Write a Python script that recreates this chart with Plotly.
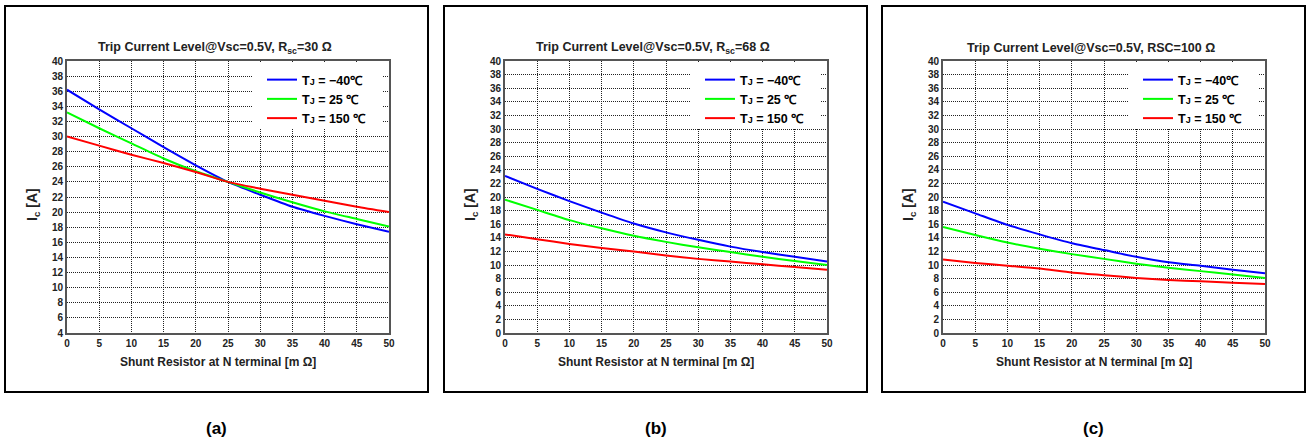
import plotly.graph_objects as go

# ---------------- data ----------------
shunt_mohm = [0, 5, 10, 15, 20, 25, 30, 35, 40, 45, 50]

# (a) Rsc = 30 ohm
a_tj_m40 = [36.2, 33.6, 31.1, 28.6, 26.2, 24.0, 22.3, 20.7, 19.5, 18.4, 17.4]
a_tj_25 = [33.2, 31.1, 29.1, 27.1, 25.4, 24.0, 22.6, 21.3, 20.1, 19.1, 18.1]
a_tj_150 = [30.0, 28.8, 27.6, 26.5, 25.3, 24.0, 23.1, 22.3, 21.5, 20.7, 20.0]

# (b) Rsc = 68 ohm
b_tj_m40 = [23.1, 21.2, 19.4, 17.7, 16.1, 14.8, 13.7, 12.7, 11.9, 11.2, 10.5]
b_tj_25 = [19.6, 18.1, 16.6, 15.4, 14.3, 13.4, 12.6, 11.9, 11.2, 10.6, 10.0]
b_tj_150 = [14.5, 13.8, 13.1, 12.5, 12.0, 11.4, 10.9, 10.5, 10.1, 9.7, 9.3]

# (c) Rsc = 100 ohm
c_tj_m40 = [19.3, 17.6, 15.9, 14.5, 13.2, 12.2, 11.2, 10.4, 9.9, 9.3, 8.8]
c_tj_25 = [15.6, 14.4, 13.3, 12.4, 11.6, 10.9, 10.2, 9.6, 9.1, 8.6, 8.1]
c_tj_150 = [10.8, 10.3, 9.9, 9.5, 8.9, 8.5, 8.1, 7.8, 7.6, 7.4, 7.2]

series_names = [
    "T<span style='font-size:9px'>J</span> = −40℃",
    "T<span style='font-size:9px'>J</span> = 25 ℃",
    "T<span style='font-size:9px'>J</span> = 150 ℃",
]
series_colors = ["#0000FF", "#00FF00", "#FF0000"]

panel_titles = [
    "<b>Trip Current Level@Vsc=0.5V, R<sub>sc</sub>=30 Ω</b>",
    "<b>Trip Current Level@Vsc=0.5V, R<sub>sc</sub>=68 Ω</b>",
    "<b>Trip Current Level@Vsc=0.5V, RSC=100 Ω</b>",
]
x_title = "<b>Shunt Resistor at N terminal [m Ω]</b>"
y_title = "<b>I<sub>c</sub> [A]</b>"
panel_labels = ["<b>(a)</b>", "<b>(b)</b>", "<b>(c)</b>"]
y_ranges = [[4, 40], [0, 40], [0, 40]]
x_range = [0, 50]
panel_data = [
    [a_tj_m40, a_tj_25, a_tj_150],
    [b_tj_m40, b_tj_25, b_tj_150],
    [c_tj_m40, c_tj_25, c_tj_150],
]

# ---------------- layout geometry (pixels) ----------------
W, H = 1308, 443
def fx(px):
    return px / W
def fy(py):
    return 1 - py / H

plot_left = [67, 505, 943]
plot_w = 322
plot_top, plot_bot = 61, 333
box_x = [(5, 428), (444, 867), (882, 1305)]
box_y = (6, 392)
FONT = "Liberation Sans, Arial, Helvetica, sans-serif"

fig = go.Figure()
layout = dict(
    width=W, height=H,
    margin=dict(l=0, r=0, t=0, b=0, autoexpand=False),
    paper_bgcolor="white", plot_bgcolor="white",
    font=dict(family=FONT, color="black", size=11),
    showlegend=True,
)
annotations = []
shapes = []

for i in range(3):
    sfx = "" if i == 0 else str(i + 1)
    xa, ya = "x" + sfx, "y" + sfx
    leg = "legend" + sfx
    for k in range(3):
        fig.add_trace(go.Scatter(
            x=shunt_mohm, y=panel_data[i][k], mode="lines",
            line=dict(color=series_colors[k], width=2, shape="spline", smoothing=0.6),
            name=series_names[k], xaxis=xa, yaxis=ya, legend=leg,
        ))
    axis_common = dict(
        showgrid=True, gridcolor="#222", gridwidth=1, griddash="1px,1px",
        zeroline=False, showline=True, linecolor="#555", linewidth=2, mirror=True,
        ticks="", automargin=False,
        tickfont=dict(family=FONT, size=10, weight="bold", color="#222"),
    )
    layout["xaxis" + sfx] = dict(
        axis_common, domain=[fx(plot_left[i]), fx(plot_left[i] + plot_w)],
        range=x_range, dtick=5, tick0=0, anchor=ya,
    )
    layout["yaxis" + sfx] = dict(
        axis_common, domain=[fy(plot_bot), fy(plot_top)],
        range=y_ranges[i], dtick=2, tick0=0, anchor=xa,
    )
    layout[leg] = dict(
        x=fx(plot_left[i] + 195), y=fy(65), xanchor="left", yanchor="top",
        bgcolor="rgba(255,255,255,0)", borderwidth=0,
        font=dict(family=FONT, size=12.5, weight="bold"),
        tracegroupgap=0,
    )
    # white patch behind the legend hiding the grid (fractions of the axes)
    yr = y_ranges[i]
    shapes.append(dict(
        type="rect", xref=xa, yref=ya,
        x0=x_range[0] + 0.575 * (x_range[1] - x_range[0]),
        x1=x_range[0] + 0.981 * (x_range[1] - x_range[0]),
        y0=yr[0] + 0.754 * (yr[1] - yr[0]),
        y1=yr[0] + 0.993 * (yr[1] - yr[0]),
        fillcolor="white", line=dict(width=0), layer="between",
    ))
    # outer frame
    shapes.append(dict(
        type="rect", xref="paper", yref="paper",
        x0=fx(box_x[i][0]), x1=fx(box_x[i][1]), y0=fy(box_y[1]), y1=fy(box_y[0]),
        line=dict(color="black", width=2), fillcolor="rgba(0,0,0,0)", layer="above",
    ))
    annotations.append(dict(
        text=panel_titles[i], xref="paper", yref="paper",
        x=fx(plot_left[i] + plot_w / 2 - 13), y=fy(48), xanchor="center", yanchor="middle",
        showarrow=False, font=dict(family=FONT, size=12.5, color="#222"),
    ))
    annotations.append(dict(
        text=x_title, xref="paper", yref="paper",
        x=fx(plot_left[i] + plot_w / 2 - 10), y=fy(362), xanchor="center", yanchor="middle",
        showarrow=False, font=dict(family=FONT, size=12, color="#222"),
    ))
    annotations.append(dict(
        text=y_title, xref="paper", yref="paper", textangle=-90,
        x=fx(plot_left[i] - 34), y=fy(205), xanchor="center", yanchor="middle",
        showarrow=False, font=dict(family=FONT, size=14, color="#222"),
    ))
    annotations.append(dict(
        text=panel_labels[i], xref="paper", yref="paper",
        x=fx((box_x[i][0] + box_x[i][1]) / 2), y=fy(428), xanchor="center", yanchor="middle",
        showarrow=False, font=dict(family=FONT, size=17, color="black"),
    ))

layout["annotations"] = annotations
layout["shapes"] = shapes
fig.update_layout(**layout)
fig.write_html("out.html")
